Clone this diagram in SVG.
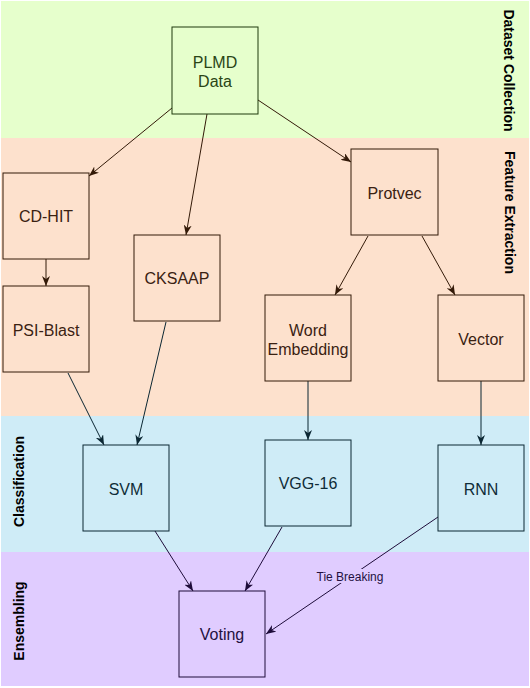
<svg xmlns="http://www.w3.org/2000/svg" width="530" height="688" viewBox="0 0 530 688">
<style>
.t{font-family:"Liberation Sans",Arial,Helvetica,sans-serif;font-size:16px;text-anchor:middle}
.lane{font-family:"Liberation Sans",Arial,Helvetica,sans-serif;font-size:14px;font-weight:bold;text-anchor:middle;fill:#000}
.g rect{fill:#E6FFCC;stroke:#1F3A0C;stroke-width:1}
.g text{fill:#2A4516}
.p rect{fill:#FDE1CD;stroke:#331A08;stroke-width:1}
.p text{fill:#3A2112}
.b rect{fill:#CFECF7;stroke:#0B2733;stroke-width:1}
.b text{fill:#0F2C38}
.v rect{fill:#E0CCFF;stroke:#1E0C3A;stroke-width:1}
.v text{fill:#24113F}
.ep{stroke:#331A08;stroke-width:1;fill:none;marker-end:url(#ap)}
.eb{stroke:#0B2733;stroke-width:1;fill:none;marker-end:url(#ab)}
.ev{stroke:#1E0C3A;stroke-width:1;fill:none;marker-end:url(#av)}
</style>
<defs>
<marker id="ap" viewBox="0 0 10 8" refX="10" refY="4" markerWidth="10" markerHeight="8" markerUnits="userSpaceOnUse" orient="auto"><path d="M0,0 L10,4 L0,8 L3,4 Z" fill="#331A08"/></marker>
<marker id="ab" viewBox="0 0 10 8" refX="10" refY="4" markerWidth="10" markerHeight="8" markerUnits="userSpaceOnUse" orient="auto"><path d="M0,0 L10,4 L0,8 L3,4 Z" fill="#0B2733"/></marker>
<marker id="av" viewBox="0 0 10 8" refX="10" refY="4" markerWidth="10" markerHeight="8" markerUnits="userSpaceOnUse" orient="auto"><path d="M0,0 L10,4 L0,8 L3,4 Z" fill="#1E0C3A"/></marker>
</defs>
<g id="lanes">
<rect x="1" y="1" width="528" height="137" fill="#E6FFCC"/>
<rect x="1" y="138" width="528" height="278" fill="#FDE1CD"/>
<rect x="1" y="416" width="528" height="136" fill="#CFECF7"/>
<rect x="1" y="552" width="528" height="134" fill="#E0CCFF"/>
<text class="lane" transform="translate(504,70.5) rotate(90)">Dataset Collection</text>
<text class="lane" transform="translate(505,212.5) rotate(90)">Feature Extraction</text>
<text class="lane" transform="translate(24,481.5) rotate(-90)">Classification</text>
<text class="lane" transform="translate(24,621) rotate(-90)">Ensembling</text>
</g>
<g id="connectors">
<line class="ep" x1="172" y1="108" x2="89" y2="176"/>
<line class="ep" x1="207" y1="114" x2="186" y2="235"/>
<line class="ep" x1="258" y1="100" x2="351" y2="162"/>
<line class="ep" x1="46" y1="259" x2="46" y2="286"/>
<line class="eb" x1="68" y1="373" x2="104" y2="445"/>
<line class="eb" x1="166" y1="322" x2="137" y2="445"/>
<line class="ep" x1="368" y1="236" x2="335" y2="295"/>
<line class="ep" x1="422" y1="236" x2="455" y2="295"/>
<line class="eb" x1="308" y1="381" x2="308" y2="440"/>
<line class="eb" x1="481" y1="381" x2="481" y2="445"/>
<line class="ev" x1="155" y1="531" x2="193" y2="591"/>
<line class="ev" x1="282" y1="527" x2="245" y2="591"/>
<polyline class="ev" points="438,517 266,634"/>
<rect x="315" y="569" width="70" height="14" fill="#E0CCFF"/>
<text x="350" y="581" font-family="'Liberation Sans',Arial,sans-serif" font-size="12" text-anchor="middle" fill="#24113F">Tie Breaking</text>
</g>
<g id="plmd" class="g"><rect x="172" y="27" width="86" height="87"/><text class="t" x="215" y="68">PLMD</text><text class="t" x="215" y="87">Data</text></g>
<g id="cdhit" class="p"><rect x="3" y="173" width="86" height="86"/><text class="t" x="46" y="222">CD-HIT</text></g>
<g id="psiblast" class="p"><rect x="3" y="286" width="86" height="86"/><text class="t" x="46" y="336">PSI-Blast</text></g>
<g id="cksaap" class="p"><rect x="134" y="235" width="86" height="86"/><text class="t" x="177" y="284">CKSAAP</text></g>
<g id="protvec" class="p"><rect x="351" y="149" width="87" height="86"/><text class="t" x="394.5" y="199">Protvec</text></g>
<g id="wordemb" class="p"><rect x="265" y="295" width="86" height="86"/><text class="t" x="308" y="336">Word</text><text class="t" x="308" y="355">Embedding</text></g>
<g id="vector" class="p"><rect x="438" y="295" width="86" height="86"/><text class="t" x="481" y="345">Vector</text></g>
<g id="svm" class="b"><rect x="83" y="445" width="86" height="86"/><text class="t" x="126" y="495">SVM</text></g>
<g id="vgg16" class="b"><rect x="265" y="440" width="86" height="86"/><text class="t" x="308" y="489">VGG-16</text></g>
<g id="rnn" class="b"><rect x="438" y="445" width="86" height="86"/><text class="t" x="481" y="495">RNN</text></g>
<g id="voting" class="v"><rect x="179" y="591" width="86" height="86"/><text class="t" x="222" y="640">Voting</text></g>
</svg>
